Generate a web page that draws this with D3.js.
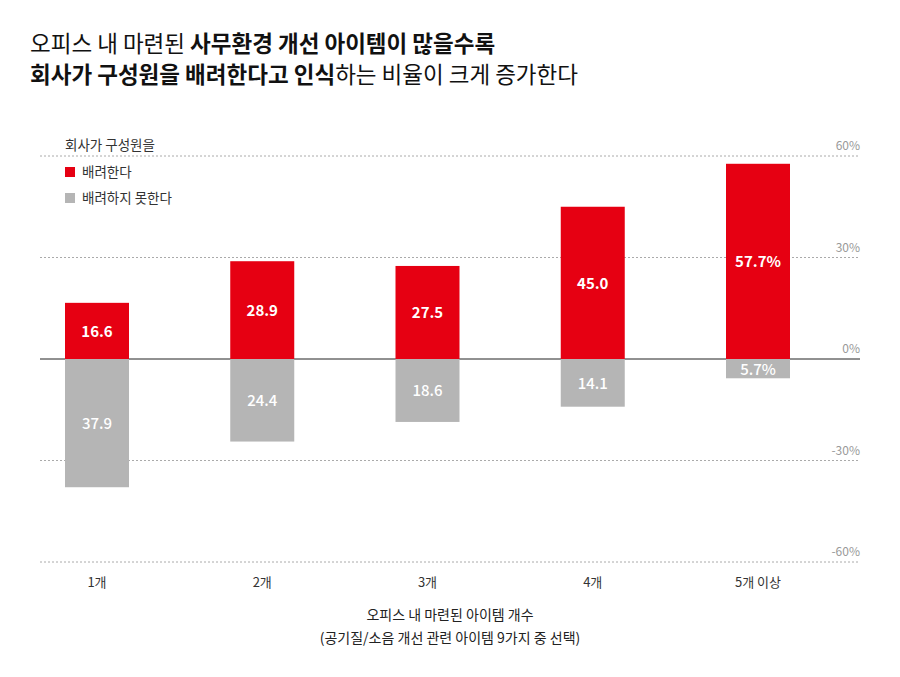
<!DOCTYPE html>
<html><head><meta charset="utf-8">
<script src="https://cdn.jsdelivr.net/npm/d3@7"></script>
<style>body{margin:0;background:#fff}svg{font-family:"Noto Sans CJK KR","Noto Sans",sans-serif}</style>
</head><body><svg id="c" width="900" height="677"></svg>
<script>
const categories = ["1개", "2개", "3개", "4개", "5개 이상"];
const considerate = [16.6, 28.9, 27.5, 45.0, 57.7];
const notConsiderate = [37.9, 24.4, 18.6, 14.1, 5.7];
const tickValues = [60, 30, 0, -30, -60];
const red = "#e60012", gray = "#b5b5b5";

const svg = d3.select("#c");
const x = d3.scalePoint().domain(categories).range([97, 758]);
const y = d3.scaleLinear().domain([-60, 60]).range([562, 156]);
const bw = 64;

// title
const title = svg.append("g").attr("font-size", 22.5).attr("fill", "#111");
const t1 = title.append("text").attr("x", 30).attr("y", 52);
t1.append("tspan").text("오피스 내 마련된 ");
t1.append("tspan").attr("font-weight", 700).text("사무환경 개선 아이템이 많을수록");
const t2 = title.append("text").attr("x", 30).attr("y", 83);
t2.append("tspan").attr("font-weight", 700).text("회사가 구성원을 배려한다고 인식");
t2.append("tspan").text("하는 비율이 크게 증가한다");

// grid
tickValues.forEach(v => {
  svg.append("line").attr("x1", 40).attr("x2", 860).attr("y1", y(v)).attr("y2", y(v))
    .attr("stroke", v === 0 ? "#222" : "#aaa").attr("stroke-width", 1)
    .attr("stroke-dasharray", v === 0 ? null : "2,2");
  svg.append("text").attr("x", 860).attr("y", y(v) - 6).attr("text-anchor", "end")
    .attr("font-size", 12).attr("fill", "#999").text(v + "%");
});

// bars
svg.selectAll(".r").data(considerate).join("rect")
  .attr("x", (d, i) => x(categories[i]) - bw / 2).attr("width", bw)
  .attr("y", d => y(d)).attr("height", d => y(0) - y(d)).attr("fill", red);
svg.selectAll(".g").data(notConsiderate).join("rect")
  .attr("x", (d, i) => x(categories[i]) - bw / 2).attr("width", bw)
  .attr("y", y(0)).attr("height", d => y(-d) - y(0)).attr("fill", gray);

svg.selectAll(".rl").data(considerate).join("text")
  .attr("x", (d, i) => x(categories[i])).attr("y", d => (y(d) + y(0)) / 2 + 6)
  .attr("text-anchor", "middle").attr("fill", "#fff").attr("font-size", 15).attr("font-weight", 600)
  .text((d, i) => d.toFixed(1) + (i === 4 ? "%" : ""));
svg.selectAll(".gl").data(notConsiderate).join("text")
  .attr("x", (d, i) => x(categories[i])).attr("y", d => (y(-d) + y(0)) / 2 + 6)
  .attr("text-anchor", "middle").attr("fill", "#fff").attr("font-size", 15).attr("font-weight", 500)
  .text((d, i) => d.toFixed(1) + (i === 4 ? "%" : ""));

// x labels
svg.selectAll(".xl").data(categories).join("text")
  .attr("x", d => x(d)).attr("y", 587).attr("text-anchor", "middle")
  .attr("font-size", 13).attr("fill", "#333").text(d => d);
svg.append("text").attr("x", 450).attr("y", 620).attr("text-anchor", "middle")
  .attr("font-size", 14).attr("fill", "#222").text("오피스 내 마련된 아이템 개수");
svg.append("text").attr("x", 450).attr("y", 643).attr("text-anchor", "middle")
  .attr("font-size", 14).attr("fill", "#222").text("(공기질/소음 개선 관련 아이템 9가지 중 선택)");

// legend
const lg = svg.append("g").attr("font-size", 13.5).attr("fill", "#333");
lg.append("text").attr("x", 65).attr("y", 150).text("회사가 구성원을");
[["배려한다", red], ["배려하지 못한다", gray]].forEach(([t, c], i) => {
  lg.append("rect").attr("x", 65).attr("y", 167 + i * 26).attr("width", 10).attr("height", 10).attr("fill", c);
  lg.append("text").attr("x", 82).attr("y", 177 + i * 26).text(t);
});
</script></body></html>
